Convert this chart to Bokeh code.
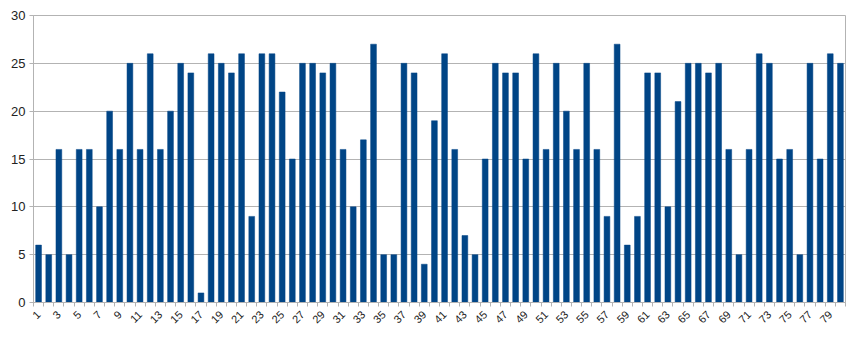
import math
from bokeh.plotting import figure
from bokeh.models import FixedTicker, Range1d, ColumnDataSource
from bokeh.embed import file_html
from bokeh.resources import INLINE

categories = list(range(1, 81))
values = [6, 5, 16, 5, 16, 16, 10, 20, 16, 25,
          16, 26, 16, 20, 25, 24, 1, 26, 25, 24,
          26, 9, 26, 26, 22, 15, 25, 25, 24, 25,
          16, 10, 17, 27, 5, 5, 25, 24, 4, 19,
          26, 16, 7, 5, 15, 25, 24, 24, 15, 26,
          16, 25, 20, 16, 25, 16, 9, 27, 6, 9,
          24, 24, 10, 21, 25, 25, 24, 25, 16, 5,
          16, 26, 25, 15, 16, 5, 25, 15, 26, 25]
y_ticks = [0, 5, 10, 15, 20, 25, 30]
x_label_ticks = [c for c in categories if c % 2 == 1]

src = ColumnDataSource(dict(x=categories, y=values))

p = figure(width=852, height=339, output_backend="svg", toolbar_location=None,
           x_range=Range1d(0.5, 80.5), y_range=Range1d(0, 30))
p.min_border_left = 33
p.min_border_right = 7
p.min_border_top = 15
p.min_border_bottom = 37
p.background_fill_color = "white"
p.border_fill_color = "white"
p.outline_line_color = "#b3b3b3"

p.vbar(x="x", top="y", width=0.57, bottom=0, source=src,
       fill_color="#004586", line_color="#004586", line_width=0.5)

grid_color = "#b3b3b3"
p.xgrid.grid_line_color = None
p.ygrid.grid_line_color = grid_color
p.ygrid.ticker = FixedTicker(ticks=y_ticks)

p.yaxis.ticker = FixedTicker(ticks=y_ticks)
p.yaxis.axis_line_color = grid_color
p.yaxis.major_tick_line_color = grid_color
p.yaxis.major_tick_out = 4
p.yaxis.major_tick_in = 0
p.yaxis.minor_tick_line_color = None
p.yaxis.major_label_text_font = "Liberation Sans"
p.yaxis.major_label_text_font_size = "13px"
p.yaxis.major_label_text_color = "#222222"
p.yaxis.major_label_standoff = 4

boundaries = [c - 0.5 for c in categories] + [80.5]
p.xaxis.ticker = FixedTicker(ticks=x_label_ticks, minor_ticks=boundaries)
p.xaxis.axis_line_color = grid_color
p.xaxis.major_tick_line_color = None
p.xaxis.minor_tick_line_color = grid_color
p.xaxis.minor_tick_out = 4
p.xaxis.minor_tick_in = 0
p.xaxis.major_label_orientation = math.pi / 4
p.xaxis.major_label_text_font = "Liberation Sans"
p.xaxis.major_label_text_font_size = "11px"
p.xaxis.major_label_text_color = "#222222"
p.xaxis.major_label_standoff = 4

open("out.html", "w").write(file_html(p, INLINE))
